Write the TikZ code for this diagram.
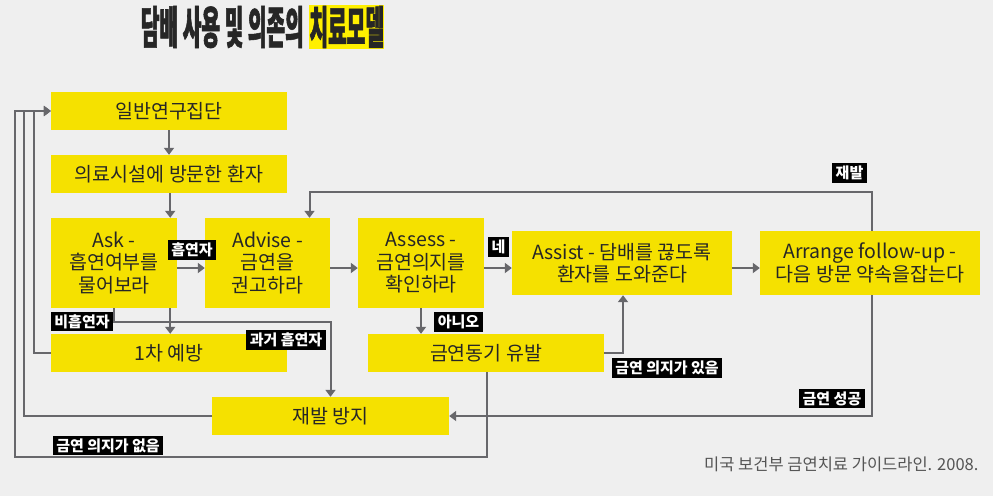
\documentclass[tikz,border=0pt]{standalone}
\usepackage{fontspec}
\usepackage{xcolor}
\usetikzlibrary{arrows.meta,positioning}
\setmainfont{Noto Sans CJK KR}
\newfontfamily\titlefont[FakeStretch=0.45,FakeBold=1.2]{Noto Sans CJK KR}

\definecolor{boxyellow}{HTML}{F5E100}
\definecolor{titleyellow}{HTML}{FFF000}
\definecolor{linegray}{HTML}{67676B}
\definecolor{bggray}{HTML}{EFEFEF}
\definecolor{notegray}{HTML}{555555}

\tikzset{
	stepbox/.style={fill=boxyellow, text=black!85, inner sep=2pt, align=center,
		font=\fontsize{19.5}{22.5}\selectfont},
	tag/.style={fill=black, text=white, inner xsep=3.5pt, inner ysep=2.5pt,
		font=\fontsize{15}{16}\selectfont\bfseries},
	arr/.style={draw=linegray, line width=2pt, -{Triangle[length=7pt,width=10pt]}},
}

\begin{document}
\begin{tikzpicture}[x=1pt,y=-1pt]
			\fill [bggray] (0,0) rectangle (993,496);
			\useasboundingbox (0,0) rectangle (993,496);

			% title
			\node [anchor=east, inner sep=0pt, font=\titlefont\fontsize{45}{45}\selectfont\bfseries, text=black!85] (title) at (304,27) {담배 사용 및 의존의};
			\node [right=5pt of title, fill=titleyellow, inner sep=0pt, minimum width=75, minimum height=44, font=\titlefont\fontsize{45}{45}\selectfont\bfseries, text=black!85] (titlehl) {치료모델};

			% boxes
			\node [stepbox, minimum width=236, minimum height=38] (gen) at (169,111) {일반연구집단};
			\node [stepbox, minimum width=236, minimum height=38] (visit) at (169,174) {의료시설에 방문한 환자};
			\node [stepbox, minimum width=126, minimum height=90] (ask) at (114,263) {Ask -\\흡연여부를\\물어보라};
			\node [stepbox, minimum width=125, minimum height=90] (advise) at (267.5,263) {Advise -\\금연을\\권고하라};
			\node [stepbox, minimum width=126, minimum height=90] (assess) at (421,263) {Assess -\\금연의지를\\확인하라};
			\node [stepbox, minimum width=220, minimum height=64] (assist) at (622,263) {Assist - 담배를 끊도록\\환자를 도와준다};
			\node [stepbox, minimum width=220, minimum height=64] (arrange) at (870,263) {Arrange follow-up -\\다음 방문 약속을잡는다};
			\node [stepbox, minimum width=236, minimum height=38] (prim) at (169,353) {1차 예방};
			\node [stepbox, minimum width=236, minimum height=38] (motiv) at (486,353) {금연동기 유발};
			\node [stepbox, minimum width=237, minimum height=38] (relapse) at (330.5,416) {재발 방지};

			% connectors
			\draw [arr] (gen) -- (visit);
			\draw [arr] ([xshift=-7pt]ask.north east |- visit.south) -- ([xshift=-7pt]ask.north east);
			\draw [arr] ([yshift=-5pt]ask.east) -- ([yshift=-5pt]advise.west);
			\draw [arr] ([yshift=-5pt]advise.east) -- ([yshift=-5pt]assess.west);
			\draw [arr] ([yshift=-5pt]assess.east) -- ([yshift=-5pt]assist.west);
			\draw [arr] ([yshift=-5pt]assist.east) -- ([yshift=-5pt]arrange.west);
			\draw [arr] (assess.south) -- (assess.south |- motiv.north);
			\draw [arr] (motiv.east) -| ([xshift=1pt]assist.south);
			\draw [arr] (ask.south) -- ++(0,14) -| (relapse.north);
			\draw [arr] ([xshift=-7pt]ask.south east) -- ([xshift=-7pt]ask.south east |- prim.north);
			\draw [arr] (prim.west) -| ([xshift=-17pt]gen.west) -- (gen.west);
			\draw [arr] (relapse.west) -| ([xshift=-27pt]gen.west) -- (gen.west);
			\draw [arr] ([xshift=1pt]motiv.south) -- ++(0,85) -| ([xshift=-36pt]gen.west) -- (gen.west);
			\draw [arr] ([xshift=2pt]arrange.south) |- (relapse.east);
			\draw [arr] ([xshift=2pt]arrange.north) -- ++(0,-39) -| ([xshift=42pt]advise.north);

			% labels on the connectors
			\node [tag] (lsmoker) at (192,250) {흡연자};
			\node [tag] (lyes) at (498.5,247) {네};
			\node [tag] (lno) at (458.5,322) {아니오};
			\node [tag] (lnonsmoker) at (82,321.5) {비흡연자};
			\node [tag] (lformer) at (286,340) {과거 흡연자};
			\node [tag] (lwill) at (667,368) {금연 의지가 있음};
			\node [tag] (lnowill) at (108,445.5) {금연 의지가 없음};
			\node [tag] (lsuccess) at (832,398.5) {금연 성공};
			\node [tag] (lrelapse) at (849.5,173) {재발};

			\node [anchor=east, text=notegray, font=\fontsize{16.5}{16.5}\selectfont] (source) at (982,464) {미국 보건부 금연치료 가이드라인. 2008.};
\end{tikzpicture}
\end{document}
